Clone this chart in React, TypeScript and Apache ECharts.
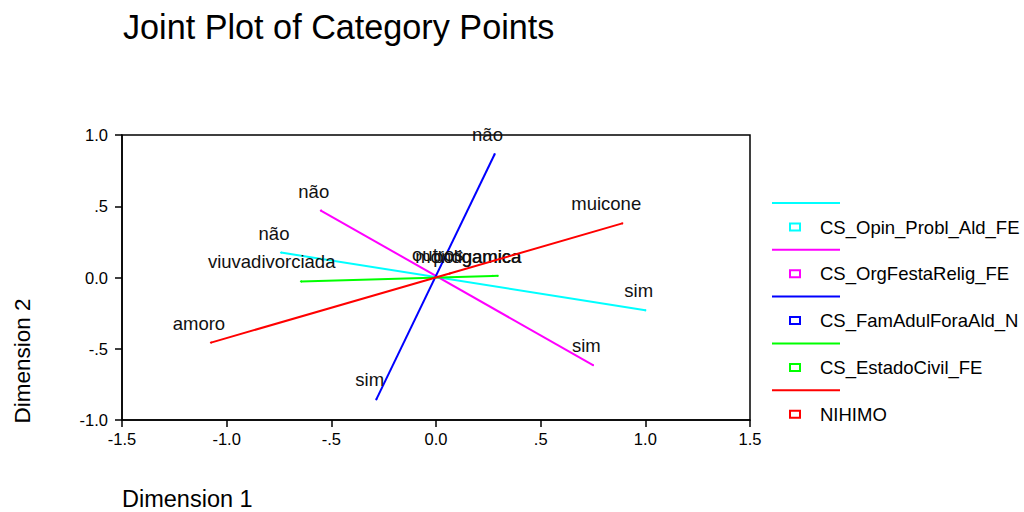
import React, { useEffect, useRef } from "react";
import * as echarts from "echarts";

// ---- Data ----
const variableNames = [
  "CS_Opin_Probl_Ald_FE",
  "CS_OrgFestaRelig_FE",
  "CS_FamAdulForaAld_N",
  "CS_EstadoCivil_FE",
  "NIHIMO",
];

const opinCats = ["não", "sim"];
const opinDim1 = [-0.74, 1.0];
const opinDim2 = [0.175, -0.23];

const festaCats = ["não", "sim"];
const festaDim1 = [-0.55, 0.75];
const festaDim2 = [0.47, -0.615];

const famCats = ["não", "sim"];
const famDim1 = [0.28, -0.285];
const famDim2 = [0.865, -0.855];

const civilCats = ["viuvadivorciada", "monogamica", "poligamica"];
const civilDim1 = [-0.645, 0.27, 0.295];
const civilDim2 = [-0.028, 0.011, 0.012];

const nihimoCats = ["amoro", "outros", "muicone"];
const nihimoDim1 = [-1.075, 0.065, 0.89];
const nihimoDim2 = [-0.457, 0.028, 0.38];

const xTickMin = -1.5;
const xTickMax = 1.5;
const yTickMin = -1.0;
const yTickMax = 1.0;
const tickStep = 0.5;

// ---- Styling ----
const colors = ["#00ffff", "#ff00ff", "#0000ff", "#00ff00", "#ff0000"];
const FONT = "Liberation Sans, Arial, sans-serif";
const LABEL_SIZE = 18.5;

const variables = [
  { cats: opinCats, d1: opinDim1, d2: opinDim2 },
  { cats: festaCats, d1: festaDim1, d2: festaDim2 },
  { cats: famCats, d1: famDim1, d2: famDim2 },
  { cats: civilCats, d1: civilDim1, d2: civilDim2 },
  { cats: nihimoCats, d1: nihimoDim1, d2: nihimoDim2 },
];

function measure(text: string): number {
  const c = document.createElement("canvas");
  const ctx = c.getContext("2d");
  if (!ctx) return text.length * 9;
  ctx.font = `${LABEL_SIZE}px "Liberation Sans"`;
  return ctx.measureText(text).width;
}

function tickFmt(v: number): string {
  if (Math.abs(v) < 1e-9) return "0.0";
  if (Math.abs(Math.abs(v) - 0.5) < 1e-9) return v < 0 ? "-.5" : ".5";
  return v.toFixed(1);
}

export default function App() {
  const ref = useRef<HTMLDivElement>(null);

  useEffect(() => {
    if (!ref.current) return;
    const chart = echarts.init(ref.current, null, { renderer: "svg" });

    const series = variables.map((v, si) => ({
      type: "line",
      name: variableNames[si],
      data: v.cats.map((c, i) => ({
        name: c,
        value: [v.d1[i], v.d2[i]],
        label: { offset: [-0.23 * measure(c), 0] },
      })),
      symbol: "circle",
      symbolSize: 2,
      showSymbol: true,
      lineStyle: { color: colors[si], width: 2 },
      itemStyle: { color: colors[si] },
      label: {
        show: true,
        position: "top",
        distance: 9,
        formatter: (p: any) => p.name,
        fontFamily: FONT,
        fontSize: LABEL_SIZE,
        color: "#111",
      },
      emphasis: { disabled: true },
      z: 2 + si,
    }));

    const rowStep = 46.8;
    const legendLines = colors.map((c, i) => ({
      type: "line",
      shape: { x1: 772, y1: 203 + rowStep * i, x2: 840, y2: 203 + rowStep * i },
      style: { stroke: c, lineWidth: 2 },
    }));

    chart.setOption({
      animation: false,
      title: {
        text: "Joint Plot of Category Points",
        left: 118,
        top: 5,
        textStyle: { fontFamily: FONT, fontSize: 34.2, fontWeight: "normal", color: "#000" },
      },
      grid: {
        left: 122,
        right: 274,
        top: 135,
        bottom: 92,
        show: true,
        borderColor: "#000",
        borderWidth: 1.5,
        backgroundColor: "transparent",
      },
      xAxis: {
        type: "value",
        min: xTickMin,
        max: xTickMax,
        interval: tickStep,
        axisLine: { show: true, onZero: false, lineStyle: { color: "#000", width: 1.5 } },
        axisTick: { show: true, inside: false, length: 7, lineStyle: { color: "#000", width: 1.5 } },
        splitLine: { show: false },
        axisLabel: {
          formatter: tickFmt,
          fontFamily: FONT,
          fontSize: 16.5,
          color: "#000",
          margin: 10,
        },
      },
      yAxis: {
        type: "value",
        min: yTickMin,
        max: yTickMax,
        interval: tickStep,
        axisLine: { show: true, onZero: false, lineStyle: { color: "#000", width: 1.5 } },
        axisTick: { show: true, inside: false, length: 7, lineStyle: { color: "#000", width: 1.5 } },
        splitLine: { show: false },
        axisLabel: {
          formatter: tickFmt,
          fontFamily: FONT,
          fontSize: 16.5,
          color: "#000",
          margin: 14,
        },
      },
      legend: {
        orient: "vertical",
        left: 789,
        top: 217,
        padding: 0,
        itemWidth: 10,
        itemHeight: 7,
        itemGap: 26.8,
        icon: "rect",
        selectedMode: false,
        textStyle: {
          fontFamily: FONT,
          fontSize: LABEL_SIZE,
          color: "#000",
          lineHeight: 20,
          padding: [0, 0, 0, 15],
        },
        data: variableNames.map((n, i) => ({
          name: n,
          icon: "rect",
          itemStyle: { color: "#ffffff", borderColor: colors[i], borderWidth: 2 },
        })),
      },
      graphic: [
        ...legendLines,
        {
          type: "text",
          x: 122,
          y: 499,
          style: {
            text: "Dimension 1",
            fontFamily: FONT,
            fontSize: 23.5,
            fill: "#000",
            align: "left",
            verticalAlign: "middle",
          },
        },
        {
          type: "text",
          x: 22,
          y: 361,
          rotation: Math.PI / 2,
          style: {
            text: "Dimension 2",
            fontFamily: FONT,
            fontSize: 22.5,
            fill: "#000",
            align: "center",
            verticalAlign: "middle",
          },
        },
      ],
      series,
    });

    return () => chart.dispose();
  }, []);

  return (
    <div
      ref={ref}
      style={{ width: 1024, height: 512, position: "absolute", left: 0, top: 0 }}
    />
  );
}
